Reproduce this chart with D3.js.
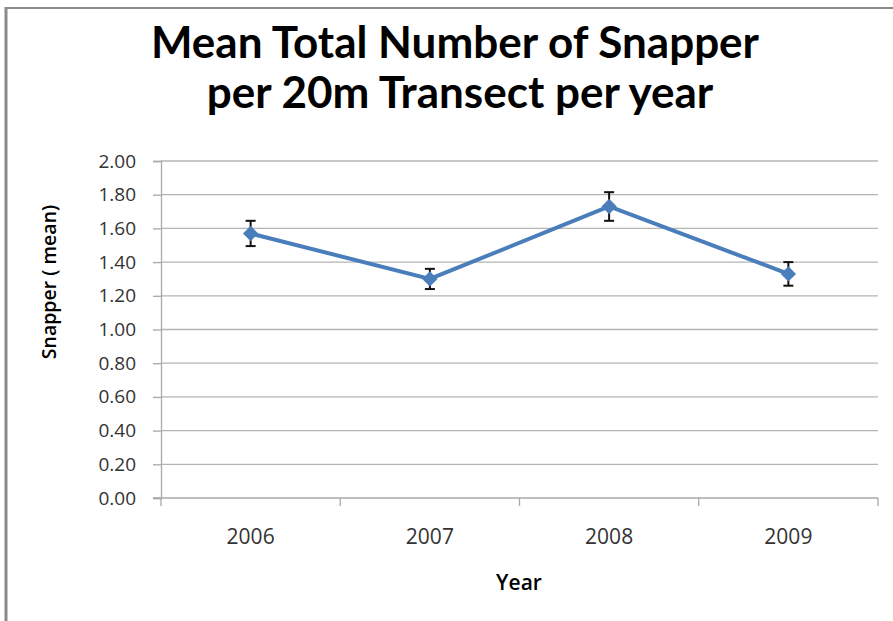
<!DOCTYPE html>
<html>
<head>
<meta charset="utf-8">
<script src="https://cdn.jsdelivr.net/npm/d3@7"></script>
<style>
  body { margin: 0; background: #fff; }
  svg { display: block; }
</style>
</head>
<body>
<svg width="893" height="621"></svg>
<script>
// data
var years = ["2006", "2007", "2008", "2009"];
var means = [1.57, 1.30, 1.73, 1.33];
var errs = [0.075, 0.06, 0.085, 0.07];
var yTicks = [0, 0.2, 0.4, 0.6, 0.8, 1.0, 1.2, 1.4, 1.6, 1.8, 2.0];

var margin = {top: 161, right: 15, bottom: 123, left: 161};
var width = 893 - margin.left - margin.right,
    height = 621 - margin.top - margin.bottom;

var svg = d3.select("svg");

// chart frame (top + left edges visible)
svg.append("line")
  .attr("x1", 5).attr("y1", 8).attr("x2", 893).attr("y2", 8)
  .attr("stroke", "#8a8a8a").attr("stroke-width", 2);
svg.append("line")
  .attr("x1", 6).attr("y1", 7).attr("x2", 6).attr("y2", 621)
  .attr("stroke", "#8a8a8a").attr("stroke-width", 3);

// title
var title = svg.append("text")
  .attr("text-anchor", "middle")
  .attr("font-family", "Lato, 'Open Sans', sans-serif")
  .attr("font-weight", "bold")
  .attr("font-size", 44)
  .attr("fill", "#000");
title.append("tspan").attr("x", 455).attr("y", 58).text("Mean Total Number of Snapper");
title.append("tspan").attr("x", 460).attr("y", 108).text("per 20m Transect per year");

var g = svg.append("g")
  .attr("transform", "translate(" + margin.left + "," + margin.top + ")");

var x = d3.scaleBand().domain(years).range([0, width]);
var y = d3.scaleLinear().domain([0, 2]).range([height, 0]);

// gridlines
g.append("g")
  .selectAll("line")
  .data(yTicks.slice(1))
  .enter().append("line")
  .attr("x1", 0).attr("x2", width)
  .attr("y1", function(d) { return y(d); })
  .attr("y2", function(d) { return y(d); })
  .attr("stroke", "#b4b4b4").attr("stroke-width", 1.3);

// y axis
var yAxis = g.append("g")
  .call(d3.axisLeft(y).tickValues(yTicks).tickFormat(d3.format(".2f")).tickSize(8).tickPadding(17));
yAxis.select(".domain").attr("stroke", "#a8a8a8").attr("stroke-width", 1.3);
yAxis.selectAll(".tick line").attr("stroke", "#a8a8a8").attr("stroke-width", 1.3);
yAxis.selectAll("text")
  .attr("font-family", "'Open Sans', sans-serif")
  .attr("font-size", 19)
  .attr("fill", "#333");

// x axis: ticks between categories
var xAxis = g.append("g")
  .attr("transform", "translate(0," + height + ")");
xAxis.append("line")
  .attr("x1", -8).attr("x2", width)
  .attr("stroke", "#a8a8a8").attr("stroke-width", 1.3);
xAxis.selectAll(".tk")
  .data(d3.range(years.length + 1))
  .enter().append("line")
  .attr("class", "tk")
  .attr("x1", function(i) { return i * x.step(); })
  .attr("x2", function(i) { return i * x.step(); })
  .attr("y1", 0).attr("y2", 8)
  .attr("stroke", "#a8a8a8").attr("stroke-width", 1.3);
xAxis.selectAll(".lbl")
  .data(years)
  .enter().append("text")
  .attr("class", "lbl")
  .attr("x", function(d) { return x(d) + x.bandwidth() / 2; })
  .attr("y", 46)
  .attr("text-anchor", "middle")
  .attr("font-family", "'Open Sans', sans-serif")
  .attr("font-size", 21)
  .attr("fill", "#333")
  .text(function(d) { return d; });

// axis titles
svg.append("text")
  .attr("x", 519).attr("y", 590)
  .attr("text-anchor", "middle")
  .attr("font-family", "'Open Sans', sans-serif")
  .attr("font-weight", 600)
  .attr("font-size", 21)
  .text("Year");
svg.append("text")
  .attr("transform", "translate(56,282) rotate(-90)")
  .attr("text-anchor", "middle")
  .attr("font-family", "'Open Sans', sans-serif")
  .attr("font-weight", 600)
  .attr("font-size", 19.5)
  .text("Snapper ( mean)");

var dataset = years.map(function(d, i) { return {year: d, m: means[i], e: errs[i]}; });
var cx = function(d) { return x(d.year) + x.bandwidth() / 2; };

// line
var line = d3.line()
  .x(cx)
  .y(function(d) { return y(d.m); });
g.append("path")
  .datum(dataset)
  .attr("d", line)
  .attr("fill", "none")
  .attr("stroke", "#4a7ebb")
  .attr("stroke-width", 4);

// error bars
var eb = g.selectAll(".eb").data(dataset).enter().append("g").attr("class", "eb");
eb.append("line")
  .attr("x1", cx).attr("x2", cx)
  .attr("y1", function(d) { return y(d.m + d.e); })
  .attr("y2", function(d) { return y(d.m - d.e); })
  .attr("stroke", "#111").attr("stroke-width", 2);
eb.append("line")
  .attr("x1", function(d) { return cx(d) - 5; }).attr("x2", function(d) { return cx(d) + 5; })
  .attr("y1", function(d) { return y(d.m + d.e); })
  .attr("y2", function(d) { return y(d.m + d.e); })
  .attr("stroke", "#111").attr("stroke-width", 2);
eb.append("line")
  .attr("x1", function(d) { return cx(d) - 5; }).attr("x2", function(d) { return cx(d) + 5; })
  .attr("y1", function(d) { return y(d.m - d.e); })
  .attr("y2", function(d) { return y(d.m - d.e); })
  .attr("stroke", "#111").attr("stroke-width", 2);

// diamond markers
g.selectAll(".dot")
  .data(dataset)
  .enter().append("path")
  .attr("class", "dot")
  .attr("d", d3.symbol().type(d3.symbolDiamond2).size(150))
  .attr("transform", function(d) { return "translate(" + cx(d) + "," + y(d.m) + ")"; })
  .attr("fill", "#4a7ebb");
</script>
</body>
</html>
